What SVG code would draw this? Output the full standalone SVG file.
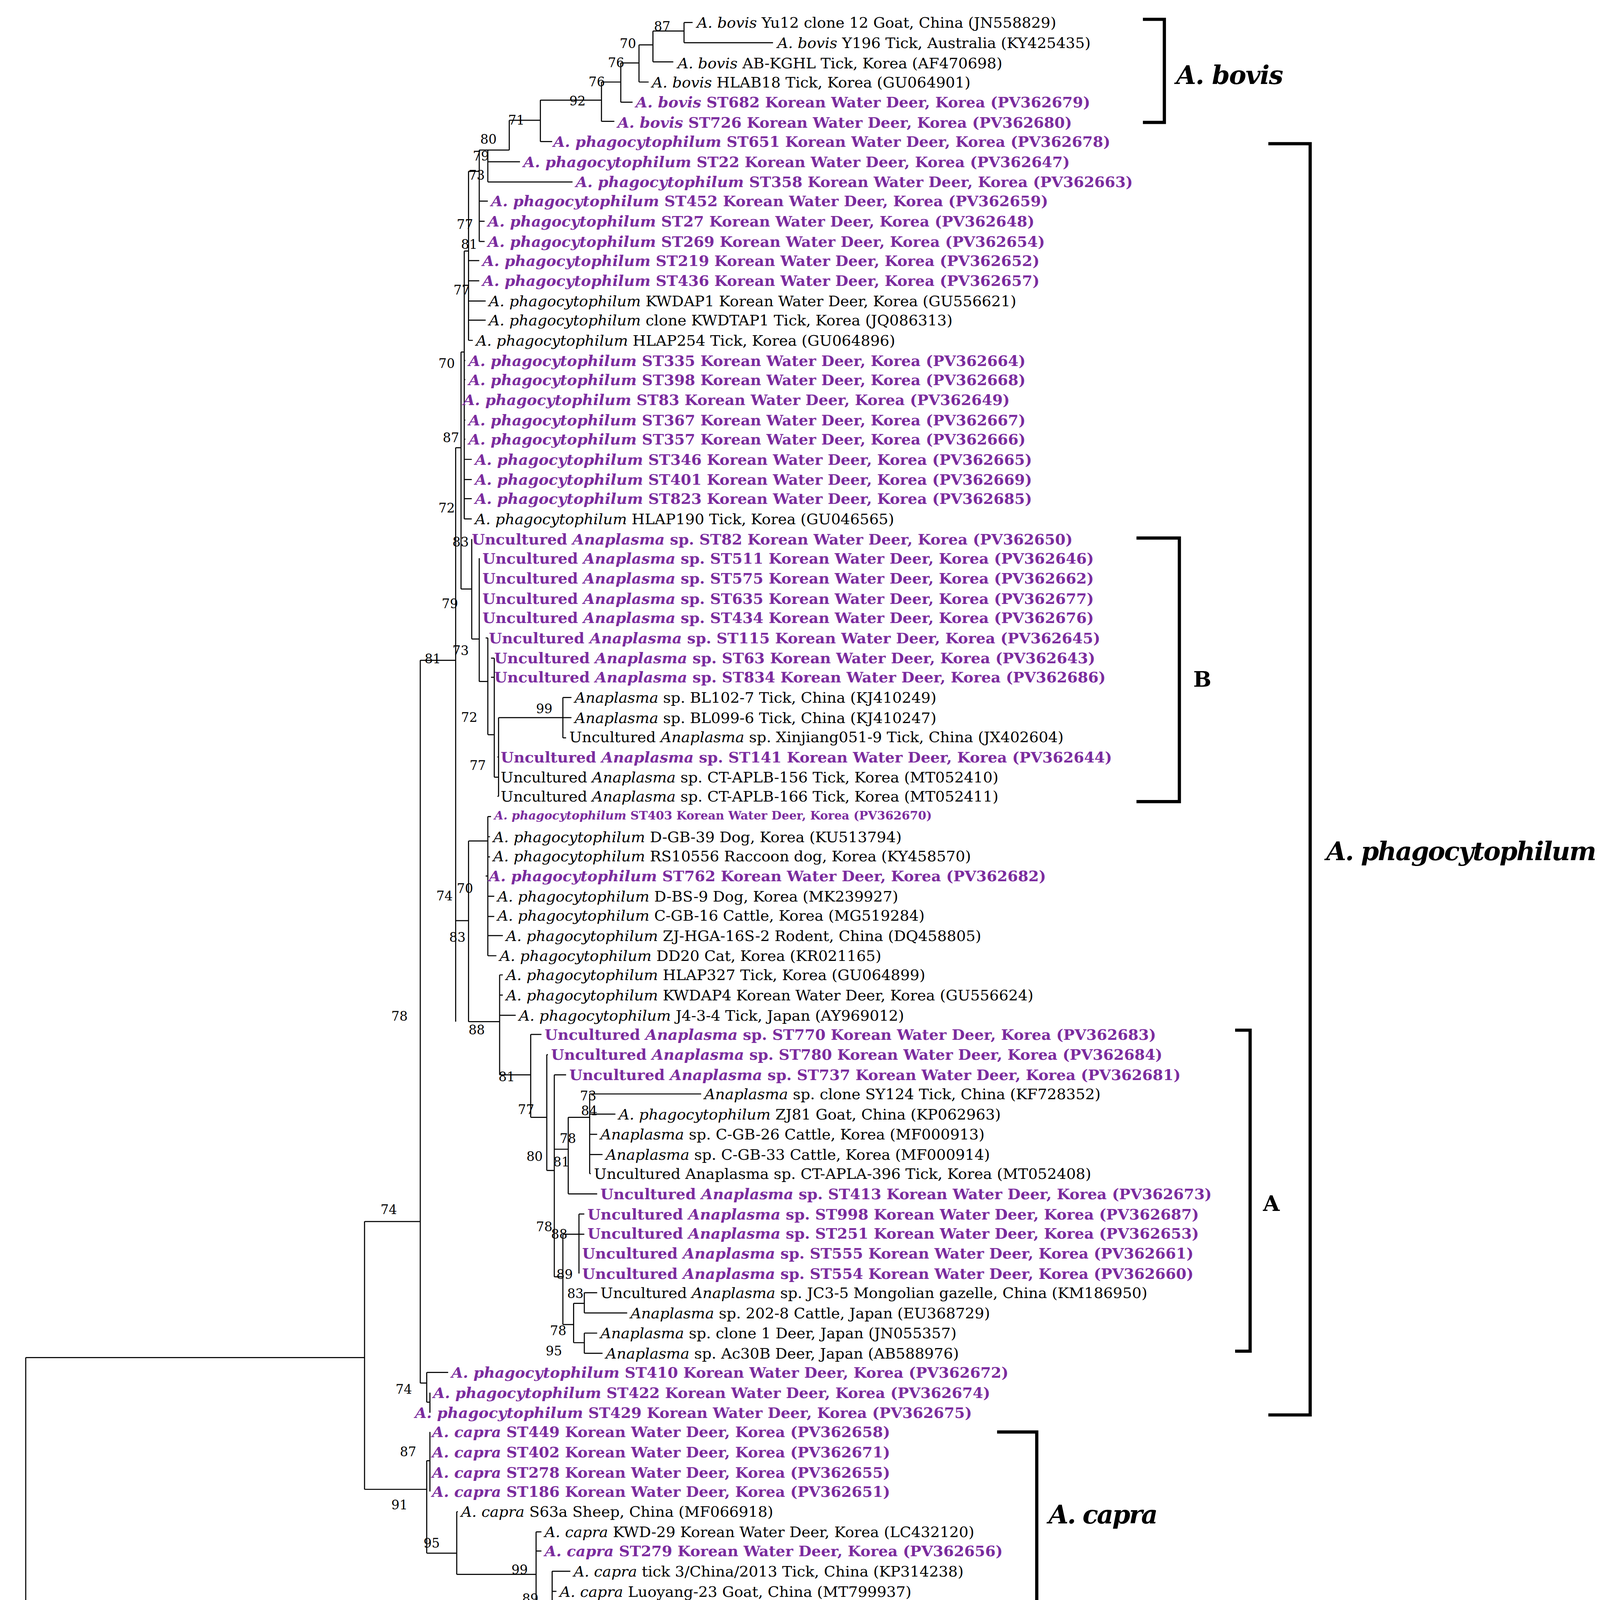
<svg xmlns="http://www.w3.org/2000/svg" width="4117" height="4280" viewBox="0 0 4117 4280">
<style>
text{font-family:"DejaVu Serif","Liberation Serif",serif;font-size:14px;fill:#000}
.p{fill:#7B2C9E;font-weight:bold}
.i{font-style:italic}
.b{font-size:12px}
.br{fill:none;stroke:#000;stroke-width:3}
.cl{font-size:24px;font-weight:bold}
</style>
<rect width="4117" height="4280" fill="#fff"/>
<g transform="matrix(2.7447 0 0 2.7211 0 3.21)">
<g id="connectors" fill="none" stroke="#000" stroke-width="1">
<path d="M24 1276V1533M24 1533H719M24 1276H340M340 1148V1400
M340 1400H398M398 1373V1460M398 1373H401M401 1346V1402M401 1346H401M401 1365H401
M398 1460H426M426 1421V1480M426 1421H427M426 1480H500M500 1440V1505M500 1440H505M500 1458H505M500 1505H515M515 1477V1514M515 1477H532M515 1496H519
M340 1148H392M392 620V1300M392 1300H398M398 1290V1318M398 1290H418M398 1318H401M401 1309V1328
M392 620H425M425 420V960M425 420H430M430 330V553M430 330H433M433 235V487
M433 338H434M433 356H434M433 394H434M433 412H434M433 431H440M433 450H440M433 468H440M433 487H440
M433 235H437M437 160V319M437 244H447M437 263H447M437 282H453M437 300H453M437 319H441
M437 160H447M447 140V226M447 188H455M447 207H452M447 226H452
M447 140H455M455 140V170M455 151H485M455 170H534M455 140H475M475 112V140
M475 112H504M504 93V132M504 132H515M504 93H561M561 76V113M561 113H573M561 76H579M579 58V95M579 95H590
M579 58H596M596 41V76M596 76H605M596 41H609M609 28V57M609 57H628M609 28H638M638 20V39M638 20H646M638 39H721
M430 553H440M440 506V600M440 600H447M447 524V640M447 524H447M447 543H447M447 562H447M447 580H447
M447 640H455M455 599V690M455 599H453M455 690H461M461 618V730M461 618H458M461 636H458
M461 730H465M465 674V748M465 711H464M465 730H464M465 748H464M465 674H525M525 655V693M525 655H533M525 674H533M525 693H528
M425 865H437M437 790V960M437 790H455M455 767V898M455 767H458M455 786H457M455 805H457M455 823H453M455 842H461M455 861H461M455 879H469M455 898H463
M437 960H466M466 916V1010M466 916H469M466 935H469M466 954H481
M466 1010H495M495 972V1050M495 972H505M495 1050H510M510 991V1100M510 991H511M510 1100H517M517 1010V1200M517 1010H528
M517 1080H530M530 1050V1122M530 1122H557M530 1050H550M550 1028V1103M550 1028H654M550 1047H574M550 1066H557M550 1085H562M550 1103H551
M517 1200H525M525 1160V1245M525 1160H540M540 1141V1197M540 1141H545M540 1160H545M540 1178H540M540 1197H540
M525 1245H535M535 1225V1262M535 1225H545M545 1215V1234M545 1215H557M545 1234H585M535 1262H545M545 1253V1272M545 1253H557M545 1272H562"/>
</g>
<g id="leaves">
<text x="650" y="25"><tspan class="i">A. bovis</tspan> Yu12 clone 12 Goat, China (JN558829)</text>
<text x="725" y="44"><tspan class="i">A. bovis</tspan> Y196 Tick, Australia (KY425435)</text>
<text x="632" y="63"><tspan class="i">A. bovis</tspan> AB-KGHL Tick, Korea (AF470698)</text>
<text x="608" y="81"><tspan class="i">A. bovis</tspan> HLAB18 Tick, Korea (GU064901)</text>
<text x="593" y="100" class="p"><tspan class="i">A. bovis</tspan> ST682 Korean Water Deer, Korea (PV362679)</text>
<text x="576" y="119" class="p"><tspan class="i">A. bovis</tspan>  ST726 Korean Water Deer, Korea (PV362680)</text>
<text x="516" y="137" class="p"><tspan class="i">A. phagocytophilum</tspan>  ST651 Korean Water Deer, Korea (PV362678)</text>
<text x="488" y="156" class="p"><tspan class="i">A. phagocytophilum</tspan>  ST22 Korean Water Deer, Korea (PV362647)</text>
<text x="537" y="175" class="p"><tspan class="i">A. phagocytophilum</tspan>  ST358 Korean Water Deer, Korea (PV362663)</text>
<text x="458" y="193" class="p"><tspan class="i">A. phagocytophilum</tspan>  ST452 Korean Water Deer, Korea (PV362659)</text>
<text x="455" y="212" class="p"><tspan class="i">A. phagocytophilum</tspan>  ST27 Korean Water Deer, Korea (PV362648)</text>
<text x="455" y="231" class="p"><tspan class="i">A. phagocytophilum</tspan>  ST269 Korean Water Deer, Korea (PV362654)</text>
<text x="450" y="249" class="p"><tspan class="i">A. phagocytophilum</tspan>  ST219 Korean Water Deer, Korea (PV362652)</text>
<text x="450" y="268" class="p"><tspan class="i">A. phagocytophilum</tspan>  ST436 Korean Water Deer, Korea (PV362657)</text>
<text x="456" y="287"><tspan class="i">A. phagocytophilum</tspan> KWDAP1 Korean Water Deer, Korea (GU556621)</text>
<text x="456" y="305"><tspan class="i">A. phagocytophilum</tspan> clone KWDTAP1 Tick, Korea (JQ086313)</text>
<text x="444" y="324"><tspan class="i">A. phagocytophilum</tspan> HLAP254 Tick, Korea (GU064896)</text>
<text x="437" y="343" class="p"><tspan class="i">A. phagocytophilum</tspan>  ST335 Korean Water Deer, Korea (PV362664)</text>
<text x="437" y="361" class="p"><tspan class="i">A. phagocytophilum</tspan>  ST398 Korean Water Deer, Korea (PV362668)</text>
<text x="432" y="380" class="p"><tspan class="i">A. phagocytophilum</tspan>  ST83 Korean Water Deer, Korea (PV362649)</text>
<text x="437" y="399" class="p"><tspan class="i">A. phagocytophilum</tspan>  ST367 Korean Water Deer, Korea (PV362667)</text>
<text x="437" y="417" class="p"><tspan class="i">A. phagocytophilum</tspan>  ST357 Korean Water Deer, Korea (PV362666)</text>
<text x="443" y="436" class="p"><tspan class="i">A. phagocytophilum</tspan>  ST346 Korean Water Deer, Korea (PV362665)</text>
<text x="443" y="455" class="p"><tspan class="i">A. phagocytophilum</tspan>  ST401 Korean Water Deer, Korea (PV362669)</text>
<text x="443" y="473" class="p"><tspan class="i">A. phagocytophilum</tspan>  ST823 Korean Water Deer, Korea (PV362685)</text>
<text x="443" y="492"><tspan class="i">A. phagocytophilum</tspan> HLAP190 Tick, Korea (GU046565)</text>
<text x="440" y="511" class="p">Uncultured <tspan class="i">Anaplasma</tspan> sp. ST82 Korean Water Deer, Korea (PV362650)</text>
<text x="450" y="529" class="p">Uncultured <tspan class="i">Anaplasma</tspan> sp. ST511 Korean Water Deer, Korea (PV362646)</text>
<text x="450" y="548" class="p">Uncultured <tspan class="i">Anaplasma</tspan> sp. ST575 Korean Water Deer, Korea (PV362662)</text>
<text x="450" y="567" class="p">Uncultured <tspan class="i">Anaplasma</tspan> sp. ST635 Korean Water Deer, Korea (PV362677)</text>
<text x="450" y="585" class="p">Uncultured <tspan class="i">Anaplasma</tspan> sp. ST434 Korean Water Deer, Korea (PV362676)</text>
<text x="456" y="604" class="p">Uncultured <tspan class="i">Anaplasma</tspan> sp. ST115 Korean Water Deer, Korea (PV362645)</text>
<text x="461" y="623" class="p">Uncultured <tspan class="i">Anaplasma</tspan> sp. ST63 Korean Water Deer, Korea (PV362643)</text>
<text x="461" y="641" class="p">Uncultured <tspan class="i">Anaplasma</tspan> sp. ST834 Korean Water Deer, Korea (PV362686)</text>
<text x="536" y="660"><tspan class="i">Anaplasma</tspan> sp. BL102-7 Tick, China (KJ410249)</text>
<text x="536" y="679"><tspan class="i">Anaplasma</tspan> sp. BL099-6 Tick, China (KJ410247)</text>
<text x="531" y="697">Uncultured <tspan class="i">Anaplasma</tspan> sp. Xinjiang051-9 Tick, China (JX402604)</text>
<text x="467" y="716" class="p">Uncultured <tspan class="i">Anaplasma</tspan> sp. ST141 Korean Water Deer, Korea (PV362644)</text>
<text x="467" y="735">Uncultured <tspan class="i">Anaplasma</tspan> sp. CT-APLB-156 Tick, Korea (MT052410)</text>
<text x="467" y="753">Uncultured <tspan class="i">Anaplasma</tspan> sp. CT-APLB-166 Tick, Korea (MT052411)</text>
<text x="461" y="770" class="p" style="font-size:11px"><tspan class="i">A. phagocytophilum</tspan>  ST403 Korean Water Deer, Korea (PV362670)</text>
<text x="460" y="791"><tspan class="i">A. phagocytophilum</tspan> D-GB-39 Dog, Korea (KU513794)</text>
<text x="460" y="809"><tspan class="i">A. phagocytophilum</tspan> RS10556 Raccoon dog, Korea (KY458570)</text>
<text x="456" y="828" class="p"><tspan class="i">A. phagocytophilum</tspan>  ST762 Korean Water Deer, Korea (PV362682)</text>
<text x="464" y="847"><tspan class="i">A. phagocytophilum</tspan>  D-BS-9 Dog, Korea (MK239927)</text>
<text x="464" y="865"><tspan class="i">A. phagocytophilum</tspan> C-GB-16 Cattle, Korea (MG519284)</text>
<text x="472" y="884"><tspan class="i">A. phagocytophilum</tspan> ZJ-HGA-16S-2 Rodent, China (DQ458805)</text>
<text x="466" y="903"><tspan class="i">A. phagocytophilum</tspan> DD20 Cat, Korea (KR021165)</text>
<text x="472" y="921"><tspan class="i">A. phagocytophilum</tspan> HLAP327 Tick, Korea (GU064899)</text>
<text x="472" y="940"><tspan class="i">A. phagocytophilum</tspan> KWDAP4 Korean Water Deer, Korea (GU556624)</text>
<text x="484" y="959"><tspan class="i">A. phagocytophilum</tspan> J4-3-4 Tick, Japan (AY969012)</text>
<text x="508" y="977" class="p">Uncultured <tspan class="i">Anaplasma</tspan> sp. ST770 Korean Water Deer, Korea (PV362683)</text>
<text x="514" y="996" class="p">Uncultured <tspan class="i">Anaplasma</tspan> sp. ST780 Korean Water Deer, Korea (PV362684)</text>
<text x="531" y="1015" class="p">Uncultured <tspan class="i">Anaplasma</tspan> sp. ST737 Korean Water Deer, Korea (PV362681)</text>
<text x="657" y="1033"><tspan class="i">Anaplasma</tspan> sp. clone SY124 Tick, China (KF728352)</text>
<text x="577" y="1052"><tspan class="i">A. phagocytophilum</tspan> ZJ81 Goat, China (KP062963)</text>
<text x="560" y="1071"><tspan class="i">Anaplasma</tspan> sp. C-GB-26 Cattle, Korea (MF000913)</text>
<text x="565" y="1090"><tspan class="i">Anaplasma</tspan> sp. C-GB-33 Cattle, Korea (MF000914)</text>
<text x="554" y="1108">Uncultured Anaplasma sp. CT-APLA-396 Tick, Korea (MT052408)</text>
<text x="560" y="1127" class="p">Uncultured <tspan class="i">Anaplasma</tspan> sp. ST413 Korean Water Deer, Korea (PV362673)</text>
<text x="548" y="1146" class="p">Uncultured <tspan class="i">Anaplasma</tspan> sp. ST998 Korean Water Deer, Korea (PV362687)</text>
<text x="548" y="1164" class="p">Uncultured <tspan class="i">Anaplasma</tspan> sp. ST251 Korean Water Deer, Korea (PV362653)</text>
<text x="543" y="1183" class="p">Uncultured <tspan class="i">Anaplasma</tspan> sp. ST555 Korean Water Deer, Korea (PV362661)</text>
<text x="543" y="1202" class="p">Uncultured <tspan class="i">Anaplasma</tspan> sp. ST554 Korean Water Deer, Korea (PV362660)</text>
<text x="560" y="1220">Uncultured <tspan class="i">Anaplasma</tspan> sp. JC3-5 Mongolian gazelle, China (KM186950)</text>
<text x="588" y="1239"><tspan class="i">Anaplasma</tspan> sp. 202-8 Cattle, Japan (EU368729)</text>
<text x="560" y="1258"><tspan class="i">Anaplasma</tspan> sp. clone 1 Deer, Japan (JN055357)</text>
<text x="565" y="1277"><tspan class="i">Anaplasma</tspan> sp. Ac30B Deer, Japan (AB588976)</text>
<text x="421" y="1295" class="p"><tspan class="i">A. phagocytophilum</tspan>  ST410 Korean Water Deer, Korea (PV362672)</text>
<text x="404" y="1314" class="p"><tspan class="i">A. phagocytophilum</tspan>  ST422 Korean Water Deer, Korea (PV362674)</text>
<text x="387" y="1333" class="p"><tspan class="i">A. phagocytophilum</tspan>  ST429 Korean Water Deer, Korea (PV362675)</text>
<text x="403" y="1351" class="p"><tspan class="i">A. capra</tspan> ST449 Korean Water Deer, Korea (PV362658)</text>
<text x="403" y="1370" class="p"><tspan class="i">A. capra</tspan> ST402 Korean Water Deer, Korea (PV362671)</text>
<text x="403" y="1389" class="p"><tspan class="i">A. capra</tspan> ST278 Korean Water Deer, Korea (PV362655)</text>
<text x="403" y="1407" class="p"><tspan class="i">A. capra</tspan> ST186 Korean Water Deer, Korea (PV362651)</text>
<text x="430" y="1426"><tspan class="i">A. capra</tspan>  S63a Sheep, China (MF066918)</text>
<text x="508" y="1445"><tspan class="i">A. capra</tspan> KWD-29 Korean Water Deer, Korea (LC432120)</text>
<text x="508" y="1463" class="p"><tspan class="i">A. capra</tspan> ST279 Korean Water Deer, Korea (PV362656)</text>
<text x="535" y="1482"><tspan class="i">A. capra</tspan> tick 3/China/2013 Tick, China (KP314238)</text>
<text x="522" y="1501"><tspan class="i">A. capra</tspan> Luoyang-23 Goat, China (MT799937)</text>
<text x="518" y="1519"><tspan class="i">A. capra</tspan> HLJ-14 Human, China (KM206273)</text>
<text x="722" y="1538"><tspan class="i">Rickettsia raoultii</tspan> EM, Tick, China (MF002586)</text>
</g>
<g id="bootstrap">
<text class="b" x="610" y="28">87</text><text class="b" x="578" y="44">70</text><text class="b" x="567" y="62">76</text>
<text class="b" x="549" y="80">76</text><text class="b" x="531" y="98">92</text><text class="b" x="474" y="116">71</text>
<text class="b" x="448" y="134">80</text><text class="b" x="441" y="150">79</text><text class="b" x="437" y="168">73</text>
<text class="b" x="426" y="214">77</text><text class="b" x="430" y="233">81</text><text class="b" x="423" y="276">77</text>
<text class="b" x="409" y="345">70</text><text class="b" x="413" y="415">87</text><text class="b" x="409" y="481">72</text>
<text class="b" x="422" y="513">83</text><text class="b" x="412" y="571">79</text><text class="b" x="422" y="615">73</text>
<text class="b" x="396" y="623">81</text><text class="b" x="430" y="678">72</text><text class="b" x="500" y="670">99</text>
<text class="b" x="438" y="723">77</text><text class="b" x="426" y="839">70</text><text class="b" x="407" y="846">74</text>
<text class="b" x="419" y="885">83</text><text class="b" x="437" y="972">88</text><text class="b" x="465" y="1016">81</text>
<text class="b" x="483" y="1047">77</text><text class="b" x="541" y="1034">73</text><text class="b" x="542" y="1048">84</text>
<text class="b" x="491" y="1091">80</text><text class="b" x="522" y="1074">78</text><text class="b" x="516" y="1096">81</text>
<text class="b" x="500" y="1157">78</text><text class="b" x="514" y="1164">88</text><text class="b" x="519" y="1202">89</text>
<text class="b" x="529" y="1220">83</text><text class="b" x="513" y="1255">78</text><text class="b" x="509" y="1274">95</text>
<text class="b" x="365" y="959">78</text><text class="b" x="355" y="1141">74</text><text class="b" x="369" y="1310">74</text>
<text class="b" x="373" y="1369">87</text><text class="b" x="365" y="1419">91</text><text class="b" x="395" y="1455">95</text>
<text class="b" x="477" y="1480">99</text><text class="b" x="487" y="1507">89</text>
</g>
<g id="clades">
<path class="br" d="M1066 17H1086V114H1066"/>
<text class="cl" x="1097" y="78" textLength="100"><tspan class="i">A. bovis</tspan></text>
<path class="br" d="M1183 134H1222V1330H1183"/>
<text class="cl" x="1237" y="808" textLength="252"><tspan class="i">A. phagocytophilum</tspan></text>
<path class="br" d="M1060 505H1100V753H1060"/>
<text class="cl" x="1113" y="645" style="font-size:20px">B</text>
<path class="br" d="M1152 968H1166V1270H1152"/>
<text class="cl" x="1178" y="1138" style="font-size:20px">A</text>
<path class="br" d="M930 1346H967V1514H930"/>
<text class="cl" x="978" y="1432" textLength="102"><tspan class="i">A. capra</tspan></text>
</g>
<g id="scale">
<path d="M110 1547H217M110 1543V1551M217 1543V1551" stroke="#000" fill="none"/>
<text class="b" x="147" y="1563">0.02</text>
</g>
</g>
</svg>
